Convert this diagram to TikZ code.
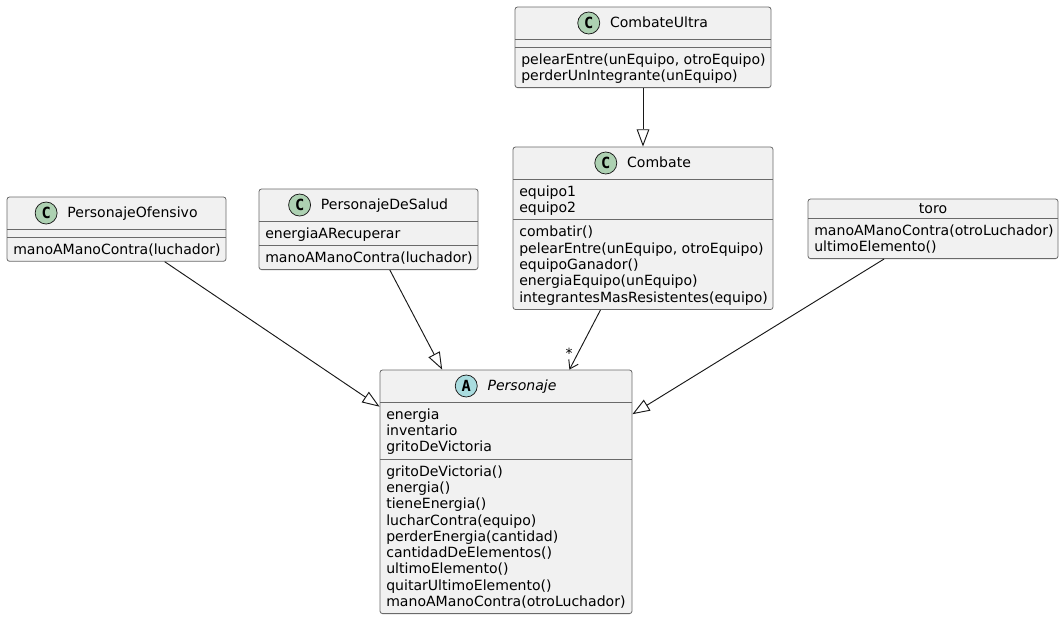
\documentclass[tikz,border=0pt]{standalone}
\usepackage{fontspec}
\setmainfont{DejaVu Sans}
\newfontfamily\circfont{DejaVu Sans Mono}
\usetikzlibrary{arrows.meta,calc}
\definecolor{boxfill}{HTML}{F1F1F1}
\definecolor{boxline}{HTML}{6A6A6A}
\definecolor{edgeline}{HTML}{181818}
\definecolor{circC}{HTML}{ADD1B2}
\definecolor{circA}{HTML}{A9DCDF}
\newcommand\mystrut{\rule{0pt}{9.74pt}}
\tikzset{
 umlbox/.style={rectangle, draw=boxline, fill=boxfill, line width=0.6pt, rounded corners=1.9pt, inner sep=0pt},
 sepline/.style={draw=boxline, line width=0.6pt},
 txt/.style={anchor=north west, inner sep=0pt, align=left, font=\fontsize{10.55}{12.225}\selectfont},
 cname/.style={anchor=base, inner sep=0pt, font=\fontsize{10.55}{12.225}\selectfont},
 circ/.style={circle, draw=edgeline, line width=0.55pt, minimum size=16.5pt, inner sep=0pt, font=\circfont\bfseries\fontsize{11.5}{11.5}\selectfont},
 ext/.style={draw=edgeline, line width=0.7pt, -{Triangle[open, length=13pt, width=9.5pt]}},
 nav/.style={draw=edgeline, line width=0.7pt, -{Straight Barb[length=6pt, width=8pt]}},
}
\begin{document}
\begin{tikzpicture}[x=0.75pt, y=-0.75pt]
\fill[white] (0,0) rectangle (1064,619);
\useasboundingbox (0,0) rectangle (1064,619);

% ---------- CombateUltra
\node[umlbox, minimum width=192pt, minimum height=60.45pt] (cu) at (643,47.3) {};
\node[cname] (cuName) at (659,27.85) {CombateUltra};
\node[circ, fill=circC] (cuC) at ($(cuName.west |- 0,23)+(-21,0)$) {C};
\draw[sepline] (515,39) -- (771,39);
\draw[sepline] (515,47) -- (771,47);
\node[txt] (cuM) at (521,51) {\mystrut pelearEntre(unEquipo, otroEquipo)\\perderUnIntegrante(unEquipo)};

% ---------- Combate
\node[umlbox, minimum width=195pt, minimum height=121.9pt] (cb) at (643,228.25) {};
\node[cname] (cbName) at (659,167.85) {Combate};
\node[circ, fill=circC] (cbC) at ($(cbName.west |- 0,163)+(-21,0)$) {C};
\draw[sepline] (513,179) -- (773,179);
\draw[sepline] (513,219.6) -- (773,219.6);
\node[txt] (cbF) at (519,183) {\mystrut equipo1\\equipo2};
\node[txt] (cbM) at (519,223.6) {\mystrut combatir()\\pelearEntre(unEquipo, otroEquipo)\\equipoGanador()\\energiaEquipo(unEquipo)\\integrantesMasResistentes(equipo)};

% ---------- PersonajeOfensivo
\node[umlbox, minimum width=164.25pt, minimum height=48.2pt] (po) at (116.5,229.15) {};
\node[cname] (poName) at (132.5,217.85) {PersonajeOfensivo};
\node[circ, fill=circC] (poC) at ($(poName.west |- 0,213)+(-21,0)$) {C};
\draw[sepline] (7,229) -- (226,229);
\draw[sepline] (7,237) -- (226,237);
\node[txt] (poM) at (13,241) {\mystrut manoAManoContra(luchador)};

% ---------- PersonajeDeSalud
\node[umlbox, minimum width=164.25pt, minimum height=60.45pt] (ps) at (368.5,229.3) {};
\node[cname] (psName) at (384.5,209.85) {PersonajeDeSalud};
\node[circ, fill=circC] (psC) at ($(psName.west |- 0,205)+(-21,0)$) {C};
\draw[sepline] (259,221) -- (478,221);
\draw[sepline] (259,245.3) -- (478,245.3);
\node[txt] (psF) at (265,225) {\mystrut energiaARecuperar};
\node[txt] (psM) at (265,249.3) {\mystrut manoAManoContra(luchador)};

% ---------- toro
\node[umlbox, minimum width=187.5pt, minimum height=44.7pt] (to) at (933,228.8) {};
\node[cname] (toName) at (933,213.35) {toro};
\draw[sepline] (808,218) -- (1058,218);
\node[txt] (toM) at (814,222) {\mystrut manoAManoContra(otroLuchador)\\ultimoElemento()};

% ---------- Personaje
\node[umlbox, minimum width=189pt, minimum height=182.7pt] (pe) at (506,491.8) {};
\node[cname, font=\fontsize{10.55}{12.225}\selectfont\itshape] (peName) at (522,390.85) {Personaje};
\node[circ, fill=circA] (peA) at ($(peName.west |- 0,386)+(-21,0)$) {A};
\draw[sepline] (380,402) -- (632,402);
\draw[sepline] (380,458.9) -- (632,458.9);
\node[txt] (peF) at (386,406) {\mystrut energia\\inventario\\gritoDeVictoria};
\node[txt] (peM) at (386,462.9) {\mystrut gritoDeVictoria()\\energia()\\tieneEnergia()\\lucharContra(equipo)\\perderEnergia(cantidad)\\cantidadDeElementos()\\ultimoElemento()\\quitarUltimoElemento()\\manoAManoContra(otroLuchador)};

% ---------- connectors
\draw[ext] (cu) -- (cb);
\draw[nav] (cb) -- (pe);
\node[inner sep=0pt, font=\fontsize{10.5}{12}\selectfont] (star) at (569,353) {*};
\draw[ext] (po) -- (pe);
\draw[ext] (ps) -- (pe);
\draw[ext] (to) -- (pe);
\end{tikzpicture}
\end{document}
